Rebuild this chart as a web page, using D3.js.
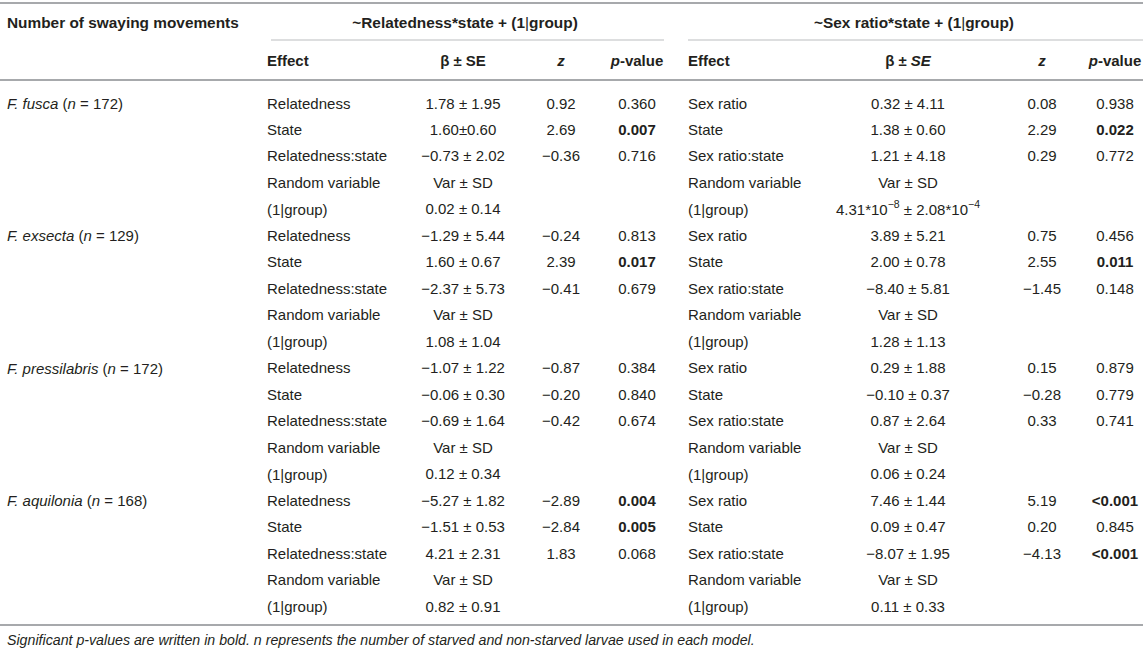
<!DOCTYPE html>
<html><head><meta charset="utf-8">
<script src="https://cdn.jsdelivr.net/npm/d3@7"></script>
<style>
html,body{margin:0;padding:0;background:#fff;}
svg{display:block;font-family:"Liberation Sans",Arial,Helvetica,sans-serif;}
</style></head>
<body><svg id="t" width="1143" height="654"></svg>
<script>
// ---------- data ----------
const species = ["F. fusca", "F. exsecta", "F. pressilabris", "F. aquilonia"];
const sampleSizes = [172, 129, 172, 168];
const relEffects = ["Relatedness", "State", "Relatedness:state"];
const sexEffects = ["Sex ratio", "State", "Sex ratio:state"];
const relBeta = [
  ["1.78 ± 1.95", "1.60±0.60", "−0.73 ± 2.02"],
  ["−1.29 ± 5.44", "1.60 ± 0.67", "−2.37 ± 5.73"],
  ["−1.07 ± 1.22", "−0.06 ± 0.30", "−0.69 ± 1.64"],
  ["−5.27 ± 1.82", "−1.51 ± 0.53", "4.21 ± 2.31"]
];
const relZ = [
  ["0.92", "2.69", "−0.36"],
  ["−0.24", "2.39", "−0.41"],
  ["−0.87", "−0.20", "−0.42"],
  ["−2.89", "−2.84", "1.83"]
];
const relP = [
  ["0.360", "0.007", "0.716"],
  ["0.813", "0.017", "0.679"],
  ["0.384", "0.840", "0.674"],
  ["0.004", "0.005", "0.068"]
];
const relRandom = ["0.02 ± 0.14", "1.08 ± 1.04", "0.12 ± 0.34", "0.82 ± 0.91"];
const sexBeta = [
  ["0.32 ± 4.11", "1.38 ± 0.60", "1.21 ± 4.18"],
  ["3.89 ± 5.21", "2.00 ± 0.78", "−8.40 ± 5.81"],
  ["0.29 ± 1.88", "−0.10 ± 0.37", "0.87 ± 2.64"],
  ["7.46 ± 1.44", "0.09 ± 0.47", "−8.07 ± 1.95"]
];
const sexZ = [
  ["0.08", "2.29", "0.29"],
  ["0.75", "2.55", "−1.45"],
  ["0.15", "−0.28", "0.33"],
  ["5.19", "0.20", "−4.13"]
];
const sexP = [
  ["0.938", "0.022", "0.772"],
  ["0.456", "0.011", "0.148"],
  ["0.879", "0.779", "0.741"],
  ["<0.001", "0.845", "<0.001"]
];
const sexRandom = ["4.31*10^−8 ± 2.08*10^−4", "1.28 ± 1.13", "0.06 ± 0.24", "0.11 ± 0.33"];
const significance = 0.05;
const footnote = "Significant p-values are written in bold. n represents the number of starved and non-starved larvae used in each model.";

// ---------- build rows ----------
const rows = [];
species.forEach((sp, i) => {
  relEffects.forEach((e, j) => {
    rows.push({sp: j === 0 ? i : null,
      L: [e, relBeta[i][j], relZ[i][j], relP[i][j]],
      R: [sexEffects[j], sexBeta[i][j], sexZ[i][j], sexP[i][j]]});
  });
  rows.push({sp: null, L: ["Random variable", "Var ± SD", "", ""], R: ["Random variable", "Var ± SD", "", ""]});
  rows.push({sp: null, L: ["(1|group)", relRandom[i], "", ""], R: ["(1|group)", sexRandom[i], "", ""]});
});
const isSig = p => p !== "" && (p.startsWith("<") || parseFloat(p) < significance);

// ---------- layout scales ----------
const W = 1143;
const svg = d3.select("#t");
const y = d3.scalePoint().domain(d3.range(rows.length)).range([103, 606]);
const colL = d3.scaleOrdinal().domain([0, 1, 2, 3]).range([267, 463, 561, 637]);
const colR = d3.scaleOrdinal().domain([0, 1, 2, 3]).range([688, 908, 1042, 1115]);
const anchorOf = k => k === 0 ? "start" : "middle";
const ink = "#231f20";
const fs = 15;

function txt(x, yy, anchor, opts = {}) {
  return svg.append("text").attr("x", x).attr("y", yy)
    .attr("text-anchor", anchor).attr("dominant-baseline", "central")
    .attr("font-size", opts.size || fs).attr("fill", ink)
    .attr("font-weight", opts.bold ? "bold" : "normal")
    .attr("font-style", opts.italic ? "italic" : "normal");
}
function span(t, s, o = {}) {
  const ts = t.append("tspan").text(s);
  if (o.bold !== undefined) ts.attr("font-weight", o.bold ? "bold" : "normal");
  if (o.italic !== undefined) ts.attr("font-style", o.italic ? "italic" : "normal");
  if (o.sup) ts.attr("font-size", fs * 0.7).attr("dy", -5);
  if (o.unsup) ts.attr("dy", 5);
  return ts;
}
function groupText(t) {
  span(t, "(1"); span(t, "|", {bold: false}); span(t, "group)");
}

// ---------- rules ----------
const rule = (x1, x2, yy, w, c) => svg.append("line").attr("x1", x1).attr("x2", x2)
  .attr("y1", yy).attr("y2", yy).attr("stroke", c).attr("stroke-width", w);
rule(0, W, 3, 2, "#a7a9ac");
rule(271, 664, 40, 1.2, "#bcbec0");
rule(688, W, 40, 1.2, "#bcbec0");
rule(0, W, 80, 2, "#a7a9ac");
rule(0, W, 625, 2, "#a7a9ac");

// ---------- headers ----------
txt(7, 22, "start", {bold: true, size: 15.4}).text("Number of swaying movements");
let h = txt(465, 22, "middle", {bold: true, size: 15.4});
span(h, "~Relatedness*state + "); groupText(h);
h = txt(914, 22, "middle", {bold: true, size: 15.4});
span(h, "~Sex ratio*state + "); groupText(h);

[[colL, false], [colR, true]].forEach(([col, seItalic]) => {
  txt(col(0), 60, "start", {bold: true}).text("Effect");
  let b = txt(col(1), 60, "middle", {bold: true});
  span(b, "β ± "); span(b, "SE", {italic: seItalic});
  txt(col(2), 60, "middle", {bold: true, italic: true}).text("z");
  let p = txt(col(3), 60, "middle", {bold: true});
  span(p, "p", {italic: true}); span(p, "-value");
});

// ---------- body ----------
function cellText(t, s) {
  if (s === "(1|group)") { groupText(t); return; }
  if (s.includes("^")) {
    const parts = s.split(/(\^[^ ]+)/);
    let prevSup = false;
    parts.forEach(pp => {
      if (pp.startsWith("^")) { span(t, pp.slice(1), {sup: true}); prevSup = true; }
      else if (pp) { span(t, pp, {unsup: prevSup}); prevSup = false; }
    });
    return;
  }
  t.text(s);
}
rows.forEach((r, i) => {
  const yy = y(i);
  if (r.sp !== null) {
    const t = txt(7, yy, "start");
    span(t, species[r.sp], {italic: true});
    span(t, " ("); span(t, "n", {italic: true}); span(t, " = " + sampleSizes[r.sp] + ")");
  }
  [[r.L, colL], [r.R, colR]].forEach(([cells, col]) => {
    cells.forEach((c, k) => {
      if (!c) return;
      const bold = k === 3 && isSig(c);
      const t = txt(col(k), yy, anchorOf(k), {bold});
      cellText(t, c);
    });
  });
});

// ---------- footnote ----------
txt(7, 640, "start", {italic: true, size: 14.2}).text(footnote);
</script>
</body></html>
